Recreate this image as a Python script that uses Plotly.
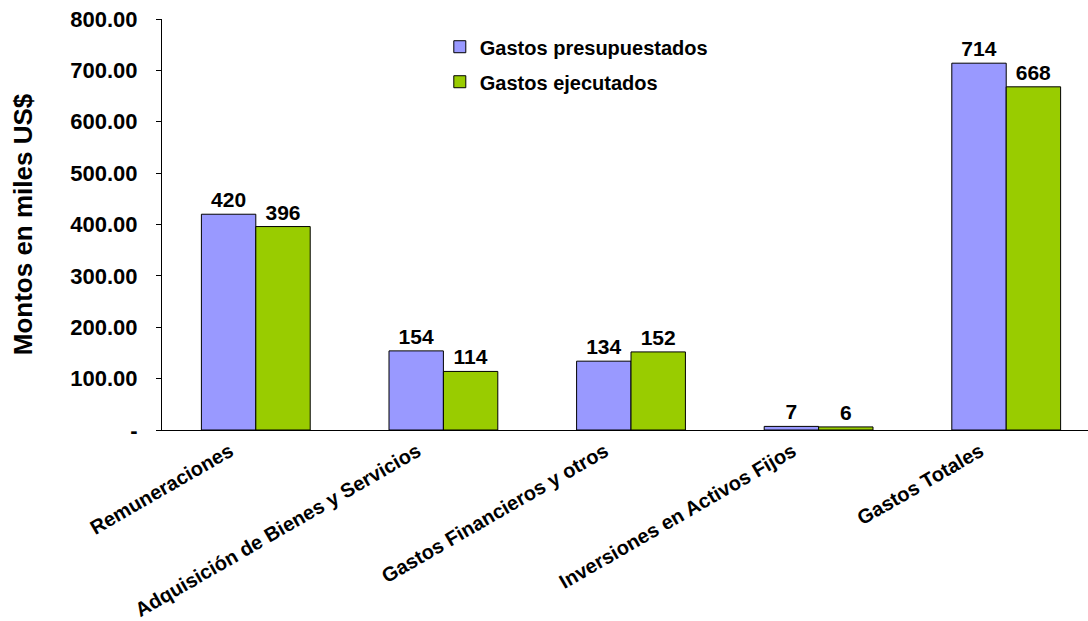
import plotly.graph_objects as go

categorias = [
    "Remuneraciones",
    "Adquisición de Bienes y Servicios",
    "Gastos Financieros y otros",
    "Inversiones en Activos Fijos",
    "Gastos Totales",
]
presupuestados = [420, 154, 134, 7, 714]
ejecutados = [396, 114, 152, 6, 668]

y_ticks = [0, 100, 200, 300, 400, 500, 600, 700, 800]
y_tick_text = ["-" if v == 0 else f"{v:.2f}" for v in y_ticks]

FONT = "Liberation Sans, Arial, sans-serif"

fig = go.Figure()
fig.add_trace(go.Bar(
    name="<b>Gastos presupuestados</b>", x=categorias, y=presupuestados,
    marker=dict(color="#9999FF", line=dict(color="#000000", width=1)),
    text=[str(v) for v in presupuestados], texttemplate="<b>%{text}</b>",
    textposition="outside",
    textfont=dict(family=FONT, size=21, color="#000000"),
    cliponaxis=False, legendgroup="a",
))
fig.add_trace(go.Bar(
    name="<b>Gastos ejecutados</b>", x=categorias, y=ejecutados,
    marker=dict(color="#99CC00", line=dict(color="#000000", width=1)),
    text=[str(v) for v in ejecutados], texttemplate="<b>%{text}</b>",
    textposition="outside",
    textfont=dict(family=FONT, size=21, color="#000000"),
    cliponaxis=False, legendgroup="b",
))

fig.update_layout(
    width=1088, height=621,
    margin=dict(l=162, r=0, t=19, b=191),
    paper_bgcolor="white", plot_bgcolor="white",
    barmode="group", bargap=0.42, bargroupgap=0,
    font=dict(family=FONT, color="#000000"),
    showlegend=True,
    legend=dict(
        x=0.30, y=0.98, xanchor="left", yanchor="top",
        font=dict(family=FONT, size=20, color="#000000"),
        bgcolor="rgba(0,0,0,0)", tracegroupgap=6,
        itemwidth=30,
    ),
)
fig.update_xaxes(
    range=[-0.5, 4.436], automargin=False,
    tickvals=categorias, ticktext=[f"<b>{c}</b>" for c in categorias],
    showline=True, linecolor="#000000", linewidth=1,
    ticks="", tickangle=-30,
    tickfont=dict(family=FONT, size=20, color="#000000"),
    ticklabelshift=-26, ticklabelstandoff=1,
    showgrid=False, zeroline=False,
)
fig.update_yaxes(
    range=[0, 800], automargin=False,
    tickvals=y_ticks, ticktext=[f"<b>{t}</b>" for t in y_tick_text],
    showline=True, linecolor="#000000", linewidth=1,
    ticks="outside", ticklen=5, tickcolor="#000000",
    tickfont=dict(family=FONT, size=22, color="#000000"),
    ticklabelstandoff=14,
    showgrid=False, zeroline=False,
    title=dict(text="<b>Montos en miles US$</b>",
               font=dict(family=FONT, size=26, color="#000000"), standoff=30),
)

fig.write_html("out.html")
